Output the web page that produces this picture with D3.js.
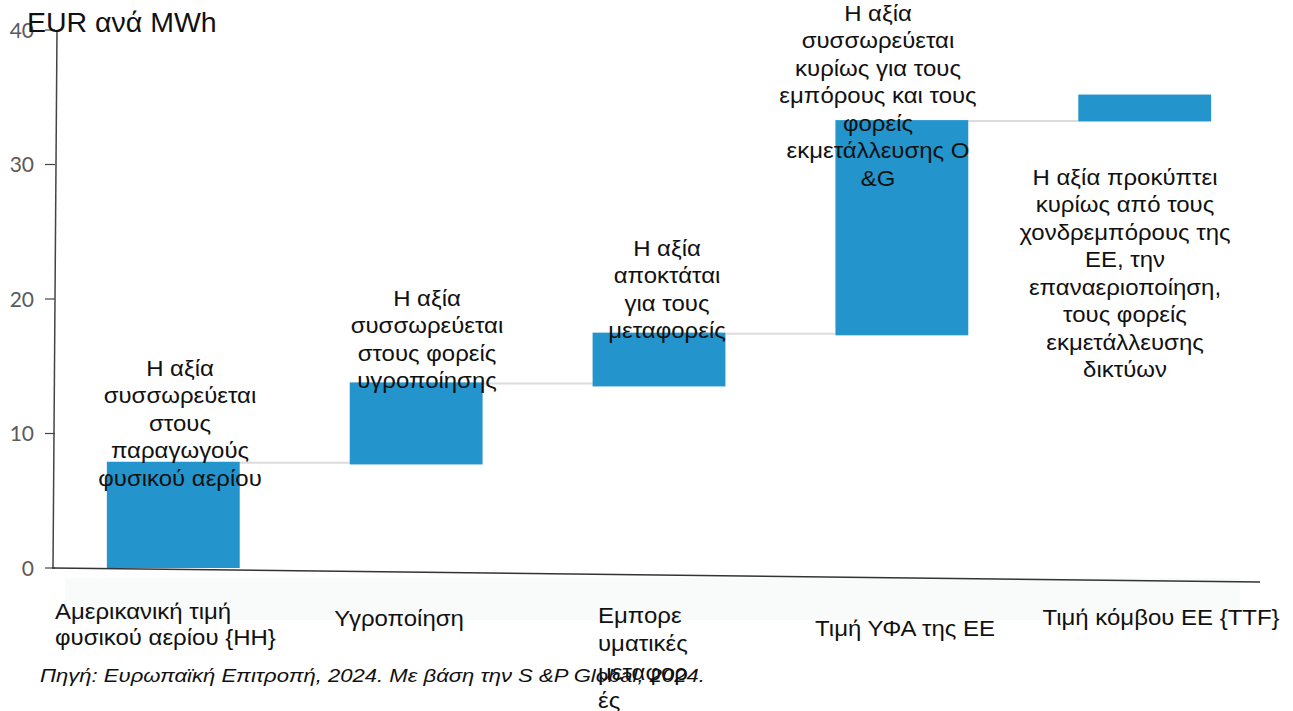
<!DOCTYPE html>
<html>
<head>
<meta charset="utf-8">
<script src="https://cdn.jsdelivr.net/npm/d3@7"></script>
<style>
  body { margin: 0; background: #fff; }
  svg { display: block; font-family: "Liberation Sans", Arial, sans-serif; }
</style>
</head>
<body>
<div id="container"></div>
<script>

// Data: waterfall steps (EUR per MWh)
const categories = ["HH", "Liquefaction", "Shipping", "EU LNG", "TTF"];
const lows  = [0,   7.7,  13.5, 17.3, 33.2];
const highs = [7.9, 13.8, 17.5, 33.3, 35.2];

const yTicks = [0, 10, 20, 30, 40];

const categoryLabels = [
  ["Αμερικανική τιμή", "φυσικού αερίου {HH}"],
  ["Υγροποίηση"],
  ["Εμπορε", "υματικές", "μεταφορ", "ές"],
  ["Τιμή ΥΦΑ της ΕΕ"],
  ["Τιμή κόμβου ΕΕ {TTF}"]
];

const notes = [
  ["Η αξία", "συσσωρεύεται", "στους", "παραγωγούς", "φυσικού αερίου"],
  ["Η αξία", "συσσωρεύεται", "στους φορείς", "υγροποίησης"],
  ["Η αξία", "αποκτάται", "για τους", "μεταφορείς"],
  ["Η αξία", "συσσωρεύεται", "κυρίως για τους", "εμπόρους και τους", "φορείς", "εκμετάλλευσης Ο", "&G"],
  ["Η αξία προκύπτει", "κυρίως από τους", "χονδρεμπόρους της", "ΕΕ, την", "επαναεριοποίηση,", "τους φορείς", "εκμετάλλευσης", "δικτύων"]
];

const unitLabel = "EUR ανά MWh";
const source = "Πηγή: Ευρωπαϊκή Επιτροπή, 2024. Με βάση την S &P Global, 2024.";

const width = 1293;
const height = 711;

// Scales
const x = d3.scaleBand()
    .domain(categories)
    .range([51.5, 1266.5])
    .paddingInner(0.453)
    .paddingOuter(0.228);

const y = d3.scaleLinear()
    .domain([0, 40])
    .range([568, 30]);

const svg = d3.create("svg")
    .attr("width", width)
    .attr("height", height);

container.append(svg.node());

// faint backdrop band under the axis (artefact of the slide)
svg.append("rect")
    .attr("x", 65).attr("y", 578)
    .attr("width", 1175).attr("height", 42)
    .attr("fill", "#f9fafa");

// Y axis
svg.append("line")
    .attr("x1", 57).attr("x2", 53)
    .attr("y1", y(40)).attr("y2", y(0))
    .attr("stroke", "#444").attr("stroke-width", 1.5);

const yt = svg.append("g").selectAll("g")
  .data(yTicks)
  .join("g")
    .attr("transform", d => `translate(0,${y(d)})`);

yt.append("line")
    .attr("x1", 45).attr("x2", 55)
    .attr("stroke", "#444").attr("stroke-width", 1.2);

yt.append("text")
    .attr("x", 34)
    .attr("dy", "0.36em")
    .attr("text-anchor", "end")
    .attr("fill", "#5a5a5a")
    .attr("font-family", "Lato, sans-serif")
    .attr("font-size", 21)
    .text(d => d);

// connector lines between steps
svg.append("g").selectAll("line")
  .data(categories.slice(0, -1))
  .join("line")
    .attr("x1", (d, i) => x(d) + x.bandwidth())
    .attr("x2", (d, i) => x(categories[i + 1]))
    .attr("y1", (d, i) => y(highs[i]) + 1)
    .attr("y2", (d, i) => y(highs[i]) + 1)
    .attr("stroke", "#dcdcdc")
    .attr("stroke-width", 2);

// bars
svg.append("g").selectAll("rect")
  .data(categories)
  .join("rect")
    .attr("x", d => x(d))
    .attr("y", (d, i) => y(highs[i]))
    .attr("width", x.bandwidth())
    .attr("height", (d, i) => y(lows[i]) - y(highs[i]))
    .attr("fill", "#2394cc");

// X axis (slightly tilted like the scanned slide)
svg.append("line")
    .attr("x1", 52).attr("y1", y(0))
    .attr("x2", 1260).attr("y2", y(0) + 14)
    .attr("stroke", "#333").attr("stroke-width", 1.5);

// text block helper: lines stretched a bit horizontally like the slide
function block(lines, cx, top, step, anchor) {
  svg.append("text")
      .attr("transform", `translate(${cx},0) scale(1.09,1)`)
      .attr("text-anchor", anchor)
      .attr("font-size", 22)
      .attr("fill", "#111")
    .selectAll("tspan")
    .data(lines)
    .join("tspan")
      .attr("x", 0)
      .attr("y", (d, j) => top + 8 + j * step)
      .text(d => d);
}

// annotation texts above/around the bars
const noteTop = [368, 298, 248, 13, 177];
const noteX = [180, 427, 667, 878, 1125];
notes.forEach((lines, i) => block(lines, noteX[i], noteTop[i], 27.5, "middle"));

// category labels
const labX = [55, 399, 598, 905, 1161];
const labAnchor = ["start", "middle", "start", "middle", "middle"];
const labTop = [611, 618, 615, 628, 617];
const labStep = [26, 28, 28.5, 28, 28];
categoryLabels.forEach((lines, i) => block(lines, labX[i], labTop[i], labStep[i], labAnchor[i]));

// unit label
svg.append("text")
    .attr("x", 27)
    .attr("y", 32)
    .attr("font-size", 28.5)
    .attr("fill", "#111")
    .text(unitLabel);

// source
svg.append("text")
    .attr("x", 40)
    .attr("y", 682)
    .attr("font-size", 18)
    .attr("font-style", "italic")
    .attr("textLength", 665)
    .attr("lengthAdjust", "spacingAndGlyphs")
    .attr("fill", "#111")
    .text(source);

</script>
</body>
</html>
